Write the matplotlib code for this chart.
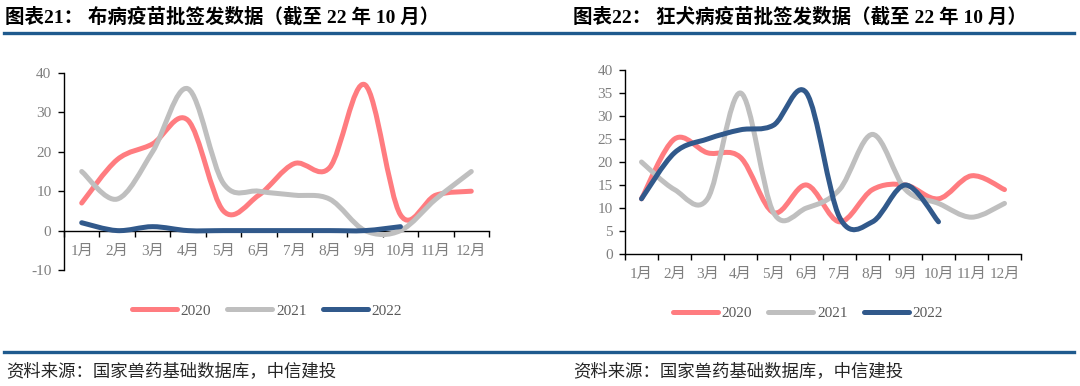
import matplotlib
matplotlib.use("Agg")
import matplotlib.pyplot as plt
from matplotlib.path import Path
from matplotlib.patches import PathPatch
from matplotlib.lines import Line2D
import numpy as np

plt.rcParams['axes.unicode_minus'] = False

months = ["1月", "2月", "3月", "4月", "5月", "6月", "7月", "8月", "9月", "10月", "11月", "12月"]
series_names = ["2020", "2021", "2022"]

# 布病疫苗批签发数据
brucella_2020 = [7, 18, 22, 28, 5, 9, 17, 16, 37, 4, 9, 10]
brucella_2021 = [15, 8, 20, 36, 12, 10, 9, 8, 0, 0, 8, 15]
brucella_2022 = [2, 0, 1, 0, 0, 0, 0, 0, 0, 1]

# 狂犬病疫苗批签发数据
rabies_2020 = [12, 25, 22, 21, 9, 15, 7, 14, 15, 12, 17, 14]
rabies_2021 = [20, 14, 12, 35, 9, 10, 14, 26, 14, 11, 8, 11]
rabies_2022 = [12, 22, 25, 27, 28, 35, 8, 7, 15, 7]

left_yticks = [-10, 0, 10, 20, 30, 40]
right_yticks = [0, 5, 10, 15, 20, 25, 30, 35, 40]

colors = ["#FF7C80", "#BFBFBF", "#31598B"]
LW = 3.6
RULE = "#1F5A8E"
SERIF_CJK = ["Liberation Serif", "Noto Sans CJK SC"]
TICK_C = "#7F7F7F"


def smooth_path(xs, ys):
    pts = np.column_stack([xs, ys]).astype(float)
    n = len(pts)
    verts = [pts[0]]
    codes = [Path.MOVETO]
    for i in range(n - 1):
        p_prev = pts[i - 1] if i > 0 else pts[i]
        p0 = pts[i]
        p1 = pts[i + 1]
        p_next = pts[i + 2] if i + 2 < n else pts[i + 1]
        c1 = p0 + (p1 - p_prev) / 6.0
        c2 = p1 - (p_next - p0) / 6.0
        verts += [c1, c2, p1]
        codes += [Path.CURVE4] * 3
    return Path(verts, codes)


def draw_chart(ax, data, yticks, ylim):
    for vals, c in zip(data, colors):
        xs = np.arange(len(vals))
        patch = PathPatch(smooth_path(xs, vals), fill=False, edgecolor=c, lw=LW,
                          capstyle="round", joinstyle="round", zorder=3)
        ax.add_patch(patch)
    ax.set_xlim(-0.5, len(months) - 0.5)
    ax.set_ylim(*ylim)
    ax.spines["top"].set_visible(False)
    ax.spines["right"].set_visible(False)
    ax.spines["bottom"].set_position(("data", 0))
    for s in ("left", "bottom"):
        ax.spines[s].set_color("black")
        ax.spines[s].set_linewidth(1.0)
    ax.spines["bottom"].set_zorder(2)
    ax.set_xticks(np.arange(-0.5, len(months), 1.0))
    ax.set_xticklabels([])
    ax.set_xticks(np.arange(len(months)), minor=True)
    ax.set_xticklabels(months, minor=True, family=SERIF_CJK, fontsize=11, color=TICK_C)
    ax.tick_params(axis="x", which="major", direction="out", length=4, width=1, color="black")
    ax.tick_params(axis="x", which="minor", length=0, pad=10)
    ax.set_yticks(yticks)
    ax.set_yticklabels([str(t) for t in yticks], family=SERIF_CJK, fontsize=11, color=TICK_C)
    ax.tick_params(axis="y", direction="out", length=4, width=1, color="black", pad=5)
    ax.set_facecolor("none")


fig = plt.figure(figsize=(10.8, 3.86), dpi=100)

ax1 = fig.add_axes([64 / 1080, 1 - 270 / 386, 425 / 1080, 197 / 386])
draw_chart(ax1, [brucella_2020, brucella_2021, brucella_2022], left_yticks, (-10, 40))

ax2 = fig.add_axes([625 / 1080, 1 - 254 / 386, 396 / 1080, 184 / 386])
draw_chart(ax2, [rabies_2020, rabies_2021, rabies_2022], right_yticks, (0, 40))

# titles
TITLE_F = ["Liberation Serif", "Noto Sans CJK SC"]
fig.text(5 / 1080, 1 - 17 / 386, "图表21： 布病疫苗批签发数据（截至 22 年 10 月）",
         family=TITLE_F, fontsize=14, fontweight="bold", va="center", ha="left", color="black")
fig.text(573 / 1080, 1 - 17 / 386, "图表22： 狂犬病疫苗批签发数据（截至 22 年 10 月）",
         family=TITLE_F, fontsize=14, fontweight="bold", va="center", ha="left", color="black")

# rules
fig.add_artist(Line2D([4 / 1080, 1074 / 1080], [1 - 33 / 386, 1 - 33 / 386],
                      color=RULE, lw=2.4, transform=fig.transFigure))
fig.add_artist(Line2D([4 / 1080, 1074 / 1080], [1 - 352 / 386, 1 - 352 / 386],
                      color=RULE, lw=2.4, transform=fig.transFigure))

# sources
src = "资料来源：国家兽药基础数据库，中信建投"
fig.text(6 / 1080, 1 - 371 / 386, src, family=["Noto Sans CJK SC"], fontsize=12.5,
         style="italic", va="center", ha="left", color="#262626")
fig.text(573 / 1080, 1 - 371 / 386, src, family=["Noto Sans CJK SC"], fontsize=12.5,
         style="italic", va="center", ha="left", color="#262626")

# legends
handles = [Line2D([], [], color=c, lw=LW, solid_capstyle="round") for c in colors]
for cx, cy in [(267 / 1080, 1 - 311 / 386), (808 / 1080, 1 - 313 / 386)]:
    fig.legend(handles, series_names, loc="center", bbox_to_anchor=(cx, cy), ncol=3,
               frameon=False, handlelength=2.95, handletextpad=0.26, columnspacing=1.05,
               prop={"family": SERIF_CJK, "size": 11}, labelcolor="#595959")

fig.savefig("out.png", dpi=100)
